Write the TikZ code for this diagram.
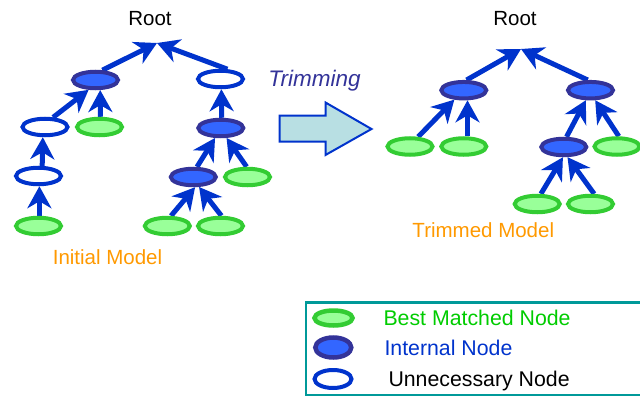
\documentclass[tikz,border=0pt]{standalone}
\usepackage{fontspec}
\setmainfont{Liberation Sans}
\usetikzlibrary{arrows.meta,shapes.geometric}
\definecolor{gfill}{HTML}{99FF99}
\definecolor{gline}{HTML}{33CC33}
\definecolor{ifill}{HTML}{3366FF}
\definecolor{iline}{HTML}{333399}
\definecolor{ublue}{HTML}{0033CC}
\definecolor{abody}{HTML}{B8DFE3}
\definecolor{teal2}{HTML}{009999}
\definecolor{orng}{HTML}{FF9900}
\definecolor{lgreen}{HTML}{00CC00}
\definecolor{trimc}{HTML}{333399}
\pgfdeclarelayer{bg}
\pgfsetlayers{bg,main}
\tikzset{
  nd/.style={ellipse, minimum width=45pt, minimum height=16.5pt, inner sep=0pt, line width=4pt},
  gnode/.style={nd, draw=gline, fill=gfill},
  inode/.style={nd, draw=iline, fill=ifill},
  unode/.style={nd, draw=ublue, fill=white},
  arr/.style={draw=ublue, line width=5pt, -{Stealth[length=22pt,width=24pt,inset=7pt]}},
  txt/.style={font=\fontsize{20.5}{24}\selectfont, inner sep=0pt, anchor=base},
  ltxt/.style={font=\fontsize{21.3}{24}\selectfont, inner sep=0pt, anchor=base west}
}
\begin{document}
\begin{tikzpicture}[x=1pt,y=-1pt]
\useasboundingbox (0,0) rectangle (640,396);
% ---------- left tree ----------
\node[txt] (rootL) at (150,26) {Root};
\coordinate (tipL) at (157,43);
\node[inode] (A) at (95.5,80) {};
\node[unode] (B) at (220.5,79) {};
\node[unode] (C) at (45,127) {};
\node[gnode] (D) at (99.5,127) {};
\node[inode] (E) at (220.8,128) {};
\node[unode] (F) at (38.5,176) {};
\node[inode] (G) at (193.3,177) {};
\node[gnode] (H) at (247.5,177) {};
\node[gnode] (I) at (38.5,226) {};
\node[gnode] (J) at (167.3,226) {};
\node[gnode] (K) at (220.5,226) {};
\node[txt, text=orng] (initL) at (107.5,264) {Initial Model};
\begin{pgfonlayer}{bg}
\draw[arr] (A.55) -- (tipL);
\draw[arr] (B.55) -- (tipL);
\draw[arr] (C.50) -- (A.235);
\draw[arr] (D.85) -- (A.295);
\draw[arr] (E.85) -- (B.275);
\draw[arr] (F.70) -- (C.258);
\draw[arr] (G.70) -- (E.240);
\draw[arr] (H.95) -- (E.300);
\draw[arr] (I.85) -- (F.275);
\draw[arr] (J.70) -- (G.280);
\draw[arr] (K.85) -- (G.300);
\end{pgfonlayer}
% ---------- trimming arrow ----------
\node[txt, text=trimc, font=\fontsize{22.5}{26}\selectfont\itshape] (trim) at (314.5,87) {Trimming};
\draw[draw=ublue, fill=abody, line width=2pt, line join=miter]
  (279.5,115.5) -- (325.5,115.5) -- (325.5,102.5) -- (371.5,129) -- (325.5,155) -- (325.5,141.5) -- (279.5,141.5) -- cycle;
% ---------- right tree ----------
\node[txt] (rootR) at (515,26) {Root};
\coordinate (tipR) at (521,49);
\node[inode] (P) at (463.8,90.2) {};
\node[inode] (Q) at (590.5,90.2) {};
\node[gnode] (R) at (410,146.5) {};
\node[gnode] (S) at (463.8,146.5) {};
\node[inode] (T) at (563.8,147) {};
\node[gnode] (U) at (617,146.5) {};
\node[gnode] (V) at (537.2,204) {};
\node[gnode] (W) at (590.5,204) {};
\node[txt, text=orng] (trimL) at (483.3,237.7) {Trimmed Model};
\begin{pgfonlayer}{bg}
\draw[arr] (P.75) -- (tipR);
\draw[arr] (Q.105) -- (tipR);
\draw[arr] (R.50) -- (P.225);
\draw[arr] (S.70) -- (P.290);
\draw[arr] (T.75) -- (Q.245);
\draw[arr] (U.80) -- (Q.295);
\draw[arr] (V.70) -- (T.265);
\draw[arr] (W.70) -- (T.290);
\end{pgfonlayer}
% ---------- legend ----------
\node[draw=teal2, line width=2.5pt, minimum width=335pt, minimum height=93pt, inner sep=0pt, anchor=north west] (leg) at (304.5,301) {};
\node[gnode, minimum width=38pt, minimum height=15pt, line width=4.5pt] (lg) at (333.5,318) {};
\node[inode, minimum width=36pt, minimum height=20pt, line width=4.5pt] (li) at (333.3,347.5) {};
\node[unode, minimum width=37pt, minimum height=18pt] (lu) at (333,379) {};
\node[ltxt, text=lgreen] (lgt) at (383.3,325) {Best Matched Node};
\node[ltxt, text=ublue] (lit) at (384.3,355) {Internal Node};
\node[ltxt] (lut) at (388.3,386.7) {Unnecessary Node};
\end{tikzpicture}
\end{document}
